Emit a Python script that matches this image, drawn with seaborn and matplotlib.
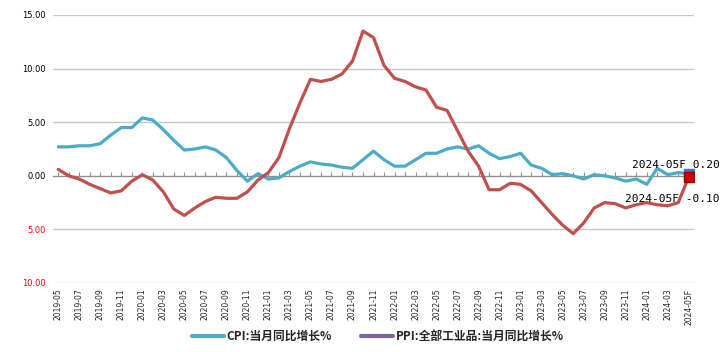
import matplotlib
matplotlib.use("Agg")
import matplotlib.pyplot as plt
from matplotlib.lines import Line2D
import seaborn as sns
import pandas as pd
import numpy as np

# ---- data ----
months = []
for y in range(2019, 2025):
    for m in range(1, 13):
        if (y == 2019 and m < 5) or (y == 2024 and m > 5):
            continue
        months.append(f"{y}-{m:02d}")
months[-1] = "2024-05F"

cpi = [2.7, 2.7, 2.8, 2.8, 3.0, 3.8, 4.5, 4.5,
       5.4, 5.2, 4.3, 3.3, 2.4, 2.5, 2.7, 2.4, 1.7, 0.5, -0.5, 0.2,
       -0.3, -0.2, 0.4, 0.9, 1.3, 1.1, 1.0, 0.8, 0.7, 1.5, 2.3, 1.5,
       0.9, 0.9, 1.5, 2.1, 2.1, 2.5, 2.7, 2.5, 2.8, 2.1, 1.6, 1.8,
       2.1, 1.0, 0.7, 0.1, 0.2, 0.0, -0.3, 0.1, 0.0, -0.2, -0.5, -0.3,
       -0.8, 0.7, 0.1, 0.3, 0.2]
ppi = [0.6, 0.0, -0.3, -0.8, -1.2, -1.6, -1.4, -0.5,
       0.1, -0.4, -1.5, -3.1, -3.7, -3.0, -2.4, -2.0, -2.1, -2.1, -1.5, -0.4,
       0.3, 1.7, 4.4, 6.8, 9.0, 8.8, 9.0, 9.5, 10.7, 13.5, 12.9, 10.3,
       9.1, 8.8, 8.3, 8.0, 6.4, 6.1, 4.2, 2.3, 0.9, -1.3, -1.3, -0.7,
       -0.8, -1.4, -2.5, -3.6, -4.6, -5.4, -4.4, -3.0, -2.5, -2.6, -3.0, -2.7,
       -2.5, -2.7, -2.8, -2.5, -0.1]
series_names = ["CPI:当月同比增长%", "PPI:全部工业品:当月同比增长%"]
yticks = [15, 10, 5, 0, -5, -10]

# ---- styling ----
cpi_color = "#4BACC6"
ppi_color = "#C0504D"
ppi_legend_color = "#8064A2"

sns.set_theme(style="white")
plt.rcParams["font.family"] = ["DejaVu Sans", "Noto Sans CJK SC"]

fig = plt.figure(figsize=(7.22, 3.52), dpi=100)
ax = fig.add_axes([53 / 722, 1 - 283 / 352, (694 - 53) / 722, (283 - 15) / 352])

idx = np.arange(len(months))
df = pd.DataFrame({
    "idx": np.concatenate([idx, idx]),
    "value": cpi + ppi,
    "series": [series_names[0]] * len(cpi) + [series_names[1]] * len(ppi),
})

for t in yticks:
    if t != 0:
        ax.axhline(t, color="#C8C8C8", lw=1.0, zorder=0)

sns.lineplot(data=df, x="idx", y="value", hue="series",
             palette={series_names[0]: cpi_color, series_names[1]: ppi_color},
             linewidth=2.3, legend=False, ax=ax, zorder=3)

# end markers
ax.plot(idx[-1], cpi[-1], marker="s", ms=6.5, color="#1F7FD0", mec="#1F7FD0", zorder=4)
ax.plot(idx[-1], ppi[-1], marker="s", ms=7, color="#CC0000", mec="#A00000", zorder=5)

ax.annotate(f"{months[-1]} {cpi[-1]:.2f}", xy=(idx[-1], cpi[-1]),
            xytext=(22, 6), textcoords="offset points", ha="right", va="center",
            fontsize=8, family="DejaVu Sans Mono", color="black", zorder=6)
ax.annotate(f"{months[-1]} {ppi[-1]:.2f}", xy=(idx[-1], ppi[-1]),
            xytext=(22, -16), textcoords="offset points", ha="right", va="center",
            fontsize=8, family="DejaVu Sans Mono", color="black", zorder=6)

ax.set_xlim(-0.5, len(months) - 0.5)
ax.set_ylim(-10, 15)
ax.set_yticks(yticks)
ax.set_yticklabels([f"{abs(t):.2f}" for t in yticks], fontsize=6)
for lab, t in zip(ax.get_yticklabels(), yticks):
    lab.set_color("red" if t < 0 else "black")
ax.set_xticks(idx[::2])
ax.set_xticklabels(months[::2], rotation=90, fontsize=5.5)
ax.tick_params(axis="both", length=0, pad=5)
ax.tick_params(axis="x", pad=4)
ax.set_xlabel("")
ax.set_ylabel("")
for s in ax.spines.values():
    s.set_visible(False)

# zero axis with monthly tick marks
sec = ax.secondary_xaxis(0.4)
sec.set_xticks(idx)
sec.set_xticklabels([])
sec.tick_params(axis="x", direction="in", length=3, width=0.8, color="#909090")
sec.spines["bottom"].set_color("#909090")
sec.spines["bottom"].set_linewidth(1.0)
sec.spines["top"].set_visible(False)

handles = [Line2D([0], [0], color=cpi_color, lw=3),
           Line2D([0], [0], color=ppi_legend_color, lw=3)]
leg = fig.legend(handles, series_names, loc="center", bbox_to_anchor=(378 / 722, 0.045),
                 ncol=2, frameon=False, handlelength=2.7, handletextpad=0.2,
                 columnspacing=2.5,
                 prop={"family": ["Noto Sans CJK SC", "DejaVu Sans"], "size": 8.5, "weight": "bold"})

fig.savefig("out.png", dpi=100)
